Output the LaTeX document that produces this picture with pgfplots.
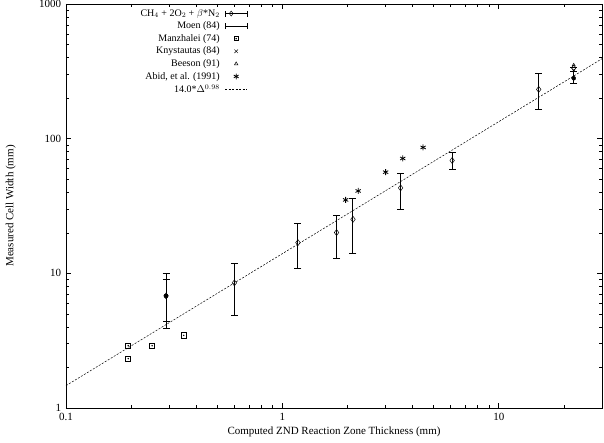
\documentclass[border=0pt]{standalone}
\usepackage{fontspec}
\setmainfont{Liberation Serif}
\usepackage{pgfplots}
\pgfplotsset{compat=1.18}
\begin{document}
\fontsize{11}{12}\selectfont
\begin{tikzpicture}
\begin{axis}[
scale only axis,
width=536pt, height=404pt,
xmode=log, ymode=log,
xmin=0.1, xmax=30, ymin=1, ymax=1000,
xtick={0.1,1,10}, xticklabels={0.1,1,10},
ytick={1,10,100,1000}, yticklabels={1,10,100,1000},
minor xtick={0.2,0.3,0.4,0.5,0.6,0.7,0.8,0.9,2,3,4,5,6,7,8,9,20,30},
minor ytick={2,3,4,5,6,7,8,9,20,30,40,50,60,70,80,90,200,300,400,500,600,700,800,900},
major tick length=5pt, minor tick length=3pt,
tick style={black, line width=0.6pt},
axis line style={line width=0.8pt},
tick label style={font=\fontsize{11}{12}\selectfont},
xticklabel style={yshift=-1pt},
yticklabel style={xshift=-1pt},
xlabel={Computed ZND Reaction Zone Thickness (mm)},
ylabel={Measured Cell Width (mm)},
label style={font=\fontsize{11}{12}\selectfont},
every axis x label/.style={at={(axis description cs:0.5,-0.059)}, anchor=center},
every axis y label/.style={at={(axis description cs:-0.103,0.5)}, anchor=center, rotate=90},
legend plot pos=right,
legend cell align=right,
legend style={draw=none, fill=none, at={(0.341,0.995)}, anchor=north east,
  font=\fontsize{10}{11}\selectfont, row sep=0pt, column sep=3pt, inner sep=1pt},
]
% CH4 + 2O2 + beta*N2
\addplot [black, only marks, mark=diamond, mark size=3pt, mark options={fill=white, line width=0.5pt},
  legend image code/.code={
    \draw[line width=0.8pt] (0pt,0pt)--(22pt,0pt) (0pt,-3pt)--(0pt,3pt) (22pt,-3pt)--(22pt,3pt);
    \draw[line width=0.5pt, fill=white] plot[mark=diamond, mark size=2.5pt] coordinates {(6pt,0pt)};},
  error bars/.cd, y dir=both, y explicit,
  error bar style={line width=1pt},
  error mark options={rotate=90, mark size=3.5pt, line width=1pt}]
table [x=x, y=y, y error plus=ep, y error minus=em] {
x y ep em
0.29 6.8 2.2 2.4
0.60 8.5 3.3 3.6
1.18 16.9 6.6 6.1
1.78 20.1 6.7 7.2
2.12 25.2 10.9 11.2
3.52 43.1 12.4 13.1
6.09 68.9 10.7 10.2
15.3 232 72 67
22.2 335 0 0
};
\addlegendentry{CH$_4$ + 2O$_2$ + $\beta$*N$_2$}
% Moen (84)
\addplot [black, only marks, mark=none,
  legend image code/.code={
    \draw[line width=0.8pt] (0pt,0pt)--(22pt,0pt) (0pt,-3pt)--(0pt,3pt) (22pt,-3pt)--(22pt,3pt);},
  error bars/.cd, y dir=both, y explicit,
  error bar style={line width=1pt},
  error mark options={rotate=90, mark size=3.5pt, line width=1pt}]
table [x=x, y=y, y error plus=ep, y error minus=em] {
x y ep em
0.29 6.8 3.2 2.9
22.2 281 37 24
};
\addlegendentry{Moen (84)}
% Manzhalei (74)
\addplot [black, only marks, mark=square, mark size=2.6pt, mark options={line width=0.8pt},
  legend image code/.code={
    \draw[line width=0.6pt] plot[mark=square, mark size=2pt] coordinates {(11pt,0pt)};
    \fill (11pt,0pt) circle (0.5pt);}]
table {
0.194 2.90
0.194 2.33
0.25 2.90
0.35 3.46
};
\addlegendentry{Manzhalei (74)}
\addplot [black, only marks, mark=*, mark size=0.5pt, forget plot]
table {
0.194 2.90
0.194 2.33
0.25 2.90
0.35 3.46
};
% Knystautas (84)
\addplot [black, only marks, mark=x, mark size=2.3pt, mark options={line width=0.5pt},
  legend image code/.code={
    \draw[line width=0.5pt] plot[mark=x, mark size=2.5pt] coordinates {(11pt,0pt)};}]
table {
0.29 6.8
22.2 322
};
\addlegendentry{Knystautas (84)}
% Beeson (91)
\addplot [black, only marks, mark=triangle, mark size=1.8pt, mark options={line width=0.5pt},
  legend image code/.code={
    \draw[line width=0.5pt] plot[mark=triangle, mark size=2pt] coordinates {(11pt,0pt)};}]
table {
22.2 352
};
\addlegendentry{Beeson (91)}
% Abid, et al. (1991)
\addplot [black, only marks, mark=asterisk, mark size=3pt, mark options={line width=0.8pt},
  legend image code/.code={
    \draw[line width=0.8pt] plot[mark=asterisk, mark size=2.8pt] coordinates {(11pt,0pt)};}]
table {
1.96 35.1
2.24 40.9
3.00 56.4
3.60 71.3
4.47 86.1
};
\addlegendentry{Abid, et al. (1991)}
% fit 14.0*Delta^0.98
\addplot [black, line width=0.5pt, dash pattern=on 2pt off 1.5pt,
  legend image code/.code={
    \draw[line width=0.5pt, dash pattern=on 2pt off 1.5pt] (0pt,0pt)--(22pt,0pt);}]
coordinates {(0.1,1.466) (30,392.5)};
\addlegendentry{14.0*$\Delta^{0.98}$}
\end{axis}
\pgfresetboundingbox
\path[use as bounding box] ([shift={(-66pt,-34pt)}]current axis.south west) rectangle ([shift={(2pt,4pt)}]current axis.north east);
\end{tikzpicture}
\end{document}
